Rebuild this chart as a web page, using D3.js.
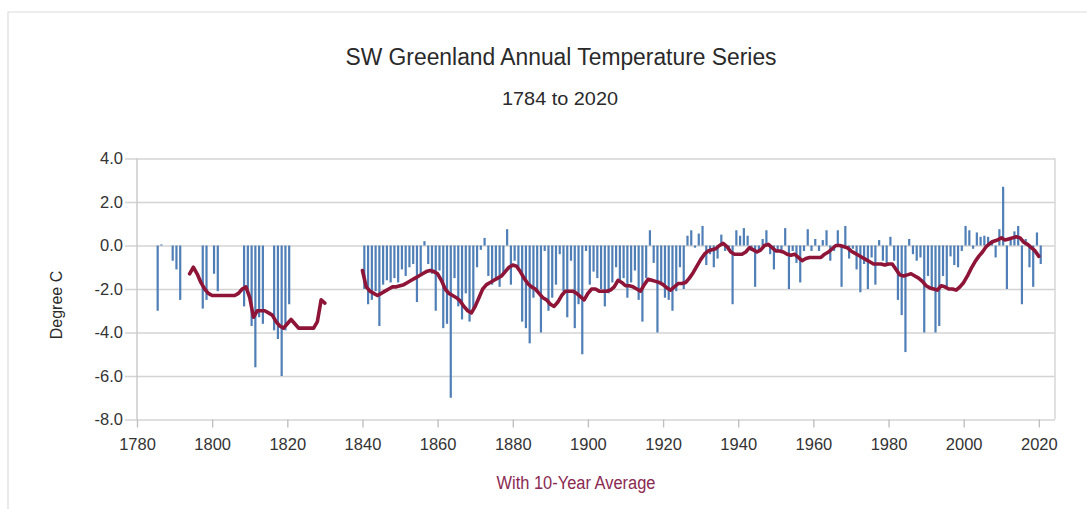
<!DOCTYPE html>
<html>
<head>
<meta charset="utf-8">
<script src="https://cdn.jsdelivr.net/npm/d3@7"></script>
<style>
  html, body { margin: 0; padding: 0; background: #fff; }
  svg { display: block; font-family: "Liberation Sans", Arial, sans-serif; }
</style>
</head>
<body>
<svg id="chart" width="1087" height="509"></svg>
<script>
// ---------------- DATA ----------------
const chartTitle = "SW Greenland Annual Temperature Series";
const chartSubtitle = "1784 to 2020";
const yAxisTitle = "Degree C";
const xAxisTitle = "With 10-Year Average";

const firstYear = 1784;

// Annual temperature anomaly (°C), one value per year 1784..2020 (null = no data)
const annualTemps = [
  null, -3.0, 0.05, null, null, -0.7,                               // 1784-1789
  -1.1, -2.5, null, null, null, null, null, -2.9, -2.5, null,        // 1790s
  -1.3, -2.1, null, null, null, null, null, null, -2.8, -2.0,        // 1800s
  -3.7, -5.6, -3.3, -3.6, null, null, -3.9, -4.3, -6.0, -3.9,        // 1810s
  -2.7, null, null, null, null, null, null, null, null, null,        // 1820s
  null, null, null, null, null, null, null, null, null, null,        // 1830s
  -2.0, -2.7, -2.5, -2.1, -3.7, -1.8, -1.6, -1.7, -1.5, -1.7,        // 1840s
  -1.1, -1.4, -1.0, -0.85, -2.6, -1.3, 0.2, -0.85, -1.3, -3.0,       // 1850s
  -1.15, -3.8, -3.6, -7.0, -1.5, -2.8, -3.4, -2.2, -3.5, -3.0,       // 1860s
  -1.0, -0.2, 0.35, -1.4, -1.8, -1.5, -1.9, -1.3, 0.75, -1.8,        // 1870s
  -0.7, -1.15, -3.5, -3.8, -4.5, -2.4, -2.1, -4.0, -0.25, -3.0,      // 1880s
  -2.4, -1.8, -0.4, -2.1, -3.3, -0.7, -3.8, -2.7, -5.0, -0.25,       // 1890s
  -1.8, -1.2, -1.5, -2.0, -2.8, -2.2, -1.7, -1.0, -1.7, -1.5,        // 1900s
  -2.4, -1.7, -1.15, -2.5, -3.5, -1.5, 0.7, -0.8, -4.0, -1.7,        // 1910s
  -2.4, -2.5, -3.0, -2.1, -1.0, -2.0, 0.45, 0.7, -0.1, 0.55,         // 1920s
  0.9, -0.9, -0.4, -1.0, -0.6, 0.5, -0.25, -0.25, -2.7, 0.7,         // 1930s
  0.45, 0.8, 0.45, -0.25, -1.9, -0.25, 0.3, 0.7, -0.4, -1.1,         // 1940s
  -0.25, -0.25, 0.8, -2.0, -0.25, -0.8, -1.7, -0.25, 0.75, -0.25,    // 1950s
  0.3, -0.25, 0.25, 0.7, -0.7, -0.25, 0.7, -1.9, 0.9, -0.6,          // 1960s
  -0.15, -1.1, -2.15, -0.85, -2.0, -0.55, -1.8, 0.25, -0.7, -0.85,   // 1970s
  0.4, -0.7, -2.5, -3.2, -4.9, 0.3, -0.4, -0.7, -0.55, -4.0,         // 1980s
  -1.4, -2.05, -4.0, -3.7, -1.4, -2.0, -0.5, -0.9, -1.0, -0.25,      // 1990s
  0.9, 0.7, -0.15, 0.6, 0.4, 0.45, 0.4, 0.25, -0.55, 0.75,           // 2000s
  2.7, -2.0, 0.4, 0.65, 0.9, -2.7, 0.3, -1.0, -1.9, 0.6,             // 2010s
  -0.85                                                             // 2020
];

// 10-year average as drawn on the chart, one value per year 1784..2020 (null = not drawn)
const tenYearAvg = [
  null, null, null, null, null, null,                                // 1784-1789
  null, null, null, null, -1.3, -1.0, -1.3, -1.7, -2.0, -2.2,        // 1790s
  -2.3, -2.3, -2.3, -2.3, -2.3, -2.3, -2.3, -2.2, -2.0, -1.9,        // 1800s
  -2.4, -3.3, -3.0, -3.0, -3.0, -3.1, -3.2, -3.5, -3.7, -3.8,        // 1810s
  -3.6, -3.4, -3.6, -3.8, -3.8, -3.8, -3.8, -3.8, -3.5, -2.5,        // 1820s
  -2.65, null, null, null, null, null, null, null, null, null,       // 1830s
  -1.15, -1.9, -2.1, -2.2, -2.3, -2.2, -2.1, -2.0, -1.9, -1.9,       // 1840s
  -1.85, -1.8, -1.7, -1.6, -1.5, -1.4, -1.3, -1.2, -1.15, -1.2,      // 1850s
  -1.3, -1.6, -2.0, -2.2, -2.3, -2.4, -2.55, -2.8, -3.0, -3.1,       // 1860s
  -2.8, -2.4, -2.0, -1.8, -1.7, -1.6, -1.5, -1.4, -1.2, -1.0,        // 1870s
  -0.9, -0.95, -1.2, -1.5, -1.75, -1.9, -2.0, -2.2, -2.4, -2.5,      // 1880s
  -2.7, -2.8, -2.6, -2.3, -2.1, -2.1, -2.1, -2.2, -2.35, -2.5,       // 1890s
  -2.2, -2.0, -2.0, -2.1, -2.1, -2.1, -2.05, -1.9, -1.6, -1.7,       // 1900s
  -1.85, -1.85, -1.9, -2.0, -2.1, -1.8, -1.55, -1.6, -1.65, -1.7,    // 1910s
  -1.8, -1.95, -2.05, -1.9, -1.75, -1.75, -1.7, -1.5, -1.25, -0.95,  // 1920s
  -0.65, -0.4, -0.25, -0.2, -0.15, 0.0, 0.1, -0.05, -0.3, -0.4,      // 1930s
  -0.4, -0.4, -0.3, -0.1, -0.2, -0.3, -0.2, 0.0, 0.05, -0.1,         // 1940s
  -0.25, -0.25, -0.3, -0.4, -0.45, -0.4, -0.55, -0.7, -0.6, -0.55,   // 1950s
  -0.55, -0.55, -0.55, -0.4, -0.3, -0.15, 0.0, 0.0, -0.05, -0.1,     // 1960s
  -0.25, -0.35, -0.45, -0.55, -0.65, -0.75, -0.85, -0.85, -0.85, -0.9, // 1970s
  -0.85, -0.85, -1.1, -1.35, -1.4, -1.35, -1.3, -1.4, -1.5, -1.65,   // 1980s
  -1.85, -1.95, -2.0, -2.05, -1.85, -1.9, -2.0, -2.0, -2.05, -1.9,   // 1990s
  -1.7, -1.4, -1.05, -0.75, -0.5, -0.3, -0.05, 0.1, 0.2, 0.25,       // 2000s
  0.35, 0.25, 0.3, 0.35, 0.4, 0.35, 0.15, 0.05, -0.1, -0.25,         // 2010s
  -0.5                                                              // 2020
];

const xTickValues = [1780, 1800, 1820, 1840, 1860, 1880, 1900, 1920, 1940, 1960, 1980, 2000, 2020];
const yTickValues = [4, 2, 0, -2, -4, -6, -8];

// ---------------- CHART ----------------
const svg = d3.select("#chart");
const W = 1087, H = 509;

const plot = { left: 137, right: 1055, top: 158.5, bottom: 419.5 };

const x = d3.scaleLinear().domain([1780, 2024.3]).range([plot.left, plot.right]);
const y = d3.scaleLinear().domain([-8, 4]).range([plot.bottom, plot.top]);

// outer chart border
svg.append("path")
  .attr("d", `M8,${H} V12 H${W}`)
  .attr("fill", "none")
  .attr("stroke", "#dcdcdc")
  .attr("stroke-width", 1.2);

// titles
svg.append("text")
  .attr("x", 561).attr("y", 65)
  .attr("text-anchor", "middle")
  .attr("font-size", 23.5)
  .attr("fill", "#2a2a2a")
  .attr("textLength", 431).attr("lengthAdjust", "spacingAndGlyphs")
  .text(chartTitle);

svg.append("text")
  .attr("x", 560).attr("y", 105)
  .attr("text-anchor", "middle")
  .attr("font-size", 18.5)
  .attr("fill", "#2a2a2a")
  .attr("textLength", 116).attr("lengthAdjust", "spacingAndGlyphs")
  .text(chartSubtitle);

// y axis with gridlines
const yAxis = d3.axisLeft(y)
  .tickValues(yTickValues)
  .tickSize(-(plot.right - 125))
  .tickPadding(2)
  .tickFormat(d => d.toFixed(1));

const gy = svg.append("g")
  .attr("transform", "translate(125,0)")
  .call(yAxis);
gy.select(".domain").remove();
gy.selectAll(".tick line").attr("stroke", "#d4d4d4").attr("stroke-width", 1.4);
gy.selectAll(".tick text")
  .attr("font-size", 16.5)
  .attr("fill", "#333")
  .attr("font-family", "'Liberation Sans', Arial, sans-serif");

// plot frame verticals
svg.append("line")
  .attr("x1", plot.left).attr("x2", plot.left)
  .attr("y1", plot.top).attr("y2", plot.bottom)
  .attr("stroke", "#c8c8c8").attr("stroke-width", 1.4);
svg.append("line")
  .attr("x1", plot.right).attr("x2", plot.right)
  .attr("y1", plot.top).attr("y2", plot.bottom)
  .attr("stroke", "#d4d4d4").attr("stroke-width", 1.4);

// x axis
const xAxis = d3.axisBottom(x)
  .tickValues(xTickValues)
  .tickSize(8)
  .tickPadding(11)
  .tickFormat(d3.format("d"));
const gx = svg.append("g")
  .attr("transform", `translate(0,${plot.bottom})`)
  .call(xAxis);
gx.select(".domain").remove();
gx.selectAll(".tick line").attr("stroke", "#c0c0c0").attr("stroke-width", 1.4);
gx.selectAll(".tick text")
  .attr("font-size", 16.5)
  .attr("fill", "#333")
  .attr("font-family", "'Liberation Sans', Arial, sans-serif");

// bars
const barData = annualTemps
  .map((v, i) => ({ year: firstYear + i, value: v }))
  .filter(d => d.value !== null);

const barW = 2.2;
svg.append("g")
  .selectAll("rect")
  .data(barData)
  .join("rect")
  .attr("x", d => x(d.year + 0.5) - barW / 2)
  .attr("width", barW)
  .attr("y", d => Math.min(y(d.value), y(0)))
  .attr("height", d => Math.abs(y(d.value) - y(0)))
  .attr("fill", "#4f7fb6");

// 10-year average line
const avgData = tenYearAvg.map((v, i) => ({ year: firstYear + i, value: v }));
const line = d3.line()
  .defined(d => d.value !== null)
  .x(d => x(d.year))
  .y(d => y(d.value))
  .curve(d3.curveLinear);

svg.append("path")
  .datum(avgData)
  .attr("d", line)
  .attr("fill", "none")
  .attr("stroke", "#8e1538")
  .attr("stroke-width", 3.6)
  .attr("stroke-linejoin", "round")
  .attr("stroke-linecap", "round");

// axis titles
svg.append("text")
  .attr("transform", "translate(62,305) rotate(-90)")
  .attr("text-anchor", "middle")
  .attr("font-size", 16)
  .attr("fill", "#2a2a2a")
  .text(yAxisTitle);

svg.append("text")
  .attr("x", 576).attr("y", 488.5)
  .attr("text-anchor", "middle")
  .attr("font-size", 18)
  .attr("fill", "#8b2a52")
  .attr("textLength", 159).attr("lengthAdjust", "spacingAndGlyphs")
  .text(xAxisTitle);
</script>
</body>
</html>
